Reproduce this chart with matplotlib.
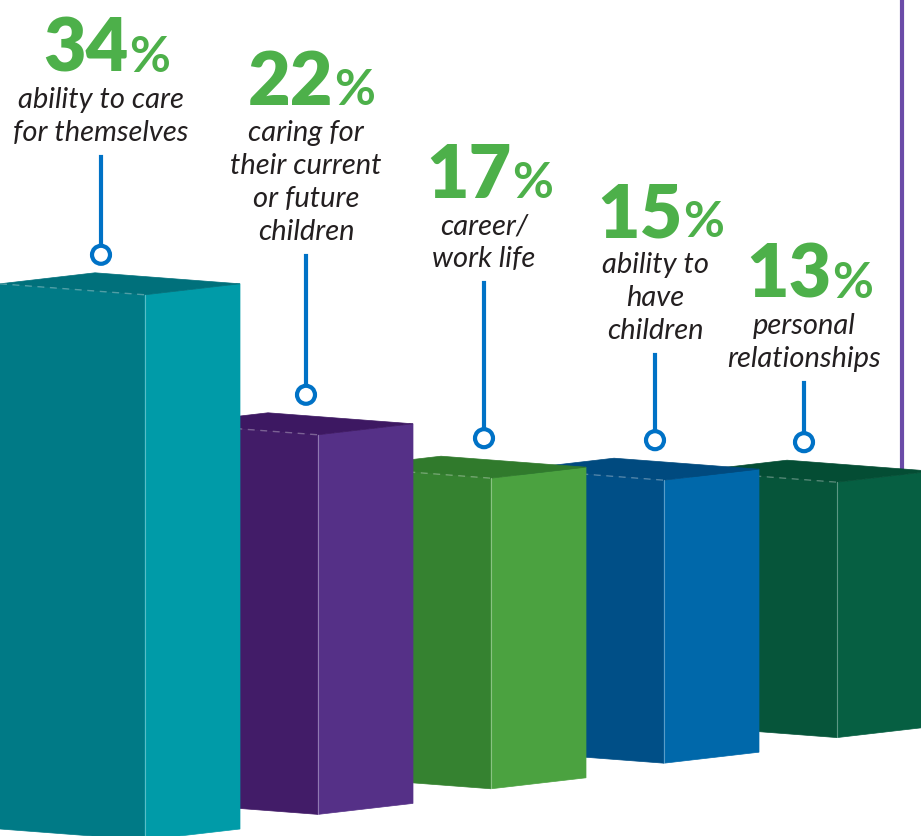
import matplotlib
matplotlib.use("Agg")
import matplotlib.pyplot as plt
from matplotlib.patches import Polygon, Circle

# data
values = [34, 22, 17, 15, 13]
labels = ["ability to care\nfor themselves",
          "caring for\ntheir current\nor future\nchildren",
          "career/\nwork life",
          "ability to\nhave\nchildren",
          "personal\nrelationships"]
left_colors = ["#007A86", "#421C68", "#358230", "#004F87", "#06553A"]
right_colors = ["#009BA8", "#553087", "#4BA240", "#0068AA", "#065F42"]
top_colors = ["#00707B", "#3D1862", "#307A2C", "#004A7F", "#044D34"]

# layout (pixel space, y grows downwards)
W, H = 921, 836
x0, dx = 145, 173           # front edge of first bar, spacing
wl, wr, slope = 145, 95, 11  # left/right face widths, edge drop
px_per_pct, h0 = 13.8, 76
label_x = [101, 306, 484, 655, 804]
pct_base = [72, 105, 198, 237, 298]
pct_green = "#4DB04A"
pin_blue = "#0072C6"

fig = plt.figure(figsize=(W / 100, H / 100), dpi=100)
ax = fig.add_axes([0, 0, 1, 1])
ax.set_xlim(0, W)
ax.set_ylim(H, 0)
ax.axis("off")

# purple divider on the right
ax.plot([902, 902], [0, 520], color="#6B4BA8", lw=3, zorder=0)


def prism(xf, ytop, ybot, cl, cr, ct, z):
    left = [(xf - wl, ytop - slope), (xf, ytop), (xf, ybot), (xf - wl, ybot - slope)]
    right = [(xf, ytop), (xf + wr, ytop - slope), (xf + wr, ybot - slope), (xf, ybot)]
    top = [(xf - wl, ytop - slope), (xf - wl + wr, ytop - 2 * slope),
           (xf + wr, ytop - slope), (xf, ytop)]
    for pts, c in ((left, cl), (right, cr), (top, ct)):
        ax.add_patch(Polygon(pts, closed=True, facecolor=c, edgecolor=c, lw=0.5, zorder=z))
    ax.plot([xf, xf], [ytop, ybot], color="white", alpha=0.35, lw=0.8, zorder=z + 0.1)
    ax.plot([xf - wl, xf], [ytop - slope, ytop], color="white", alpha=0.3, lw=1,
            ls=(0, (5, 4)), zorder=z + 0.1)


renderer = fig.canvas.get_renderer()
n = len(values)
for i in range(n - 1, -1, -1):
    xf = x0 + dx * i
    ybot = 840 - 0.148 * (xf - x0)
    ytop = ybot - (h0 + px_per_pct * values[i])
    prism(xf, ytop, ybot, left_colors[i], right_colors[i], top_colors[i], z=10 + (n - i))

    cx = label_x[i]
    # percentage: big number + smaller % sign
    num = ax.text(0, pct_base[i], str(values[i]), fontsize=53, fontweight="heavy",
                  family="Lato", color=pct_green, ha="left", va="baseline", zorder=30)
    pc = ax.text(0, pct_base[i], "%", fontsize=36, fontweight="bold",
                 family="Lato", color=pct_green, ha="left", va="baseline", zorder=30)
    wn = num.get_window_extent(renderer).width
    wp = pc.get_window_extent(renderer).width
    start = cx + 5 - (wn + wp) / 2
    num.set_x(start)
    pc.set_x(start + wn + 1)

    lines = labels[i].split("\n")
    first = pct_base[i] + 28
    for k, ln in enumerate(lines):
        ax.text(cx, first + 33 * k, ln, fontsize=21, style="italic", family="Lato",
                color="#231F20", ha="center", va="center", zorder=30)
    last = first + 33 * (len(lines) - 1)
    cy = ytop - 2 * slope - 18
    ax.plot([cx, cx], [last + 24, cy - 9], color=pin_blue, lw=3, zorder=30)
    ax.add_patch(Circle((cx, cy), 9, facecolor="white", edgecolor=pin_blue, lw=3, zorder=31))

fig.savefig("out.png", dpi=100)
